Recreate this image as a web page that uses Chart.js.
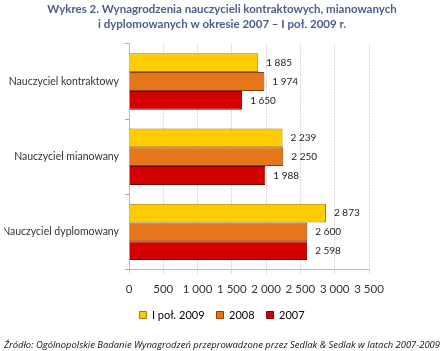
<!DOCTYPE html>
<html>
<head>
<meta charset="utf-8">
<script src="https://cdn.jsdelivr.net/npm/chart.js@4.4.0/dist/chart.umd.min.js"></script>
<style>
  body { margin: 0; background: #fff; }
  #wrap { width: 440px; height: 351px; position: relative; }
</style>
</head>
<body>
<div id="wrap"><canvas id="wykres"></canvas></div>
<script>
const kategorie = ['Nauczyciel kontraktowy', 'Nauczyciel mianowany', 'Nauczyciel dyplomowany'];
const serie = ['I poł. 2009', '2008', '2007'];
const dane2009 = [1885, 2239, 2873];
const dane2008 = [1974, 2250, 2600];
const dane2007 = [1650, 1988, 2598];

const kolory = ['#FFCC00', '#E5761C', '#D40000'];
const jasne = ['#FFE566', '#F5A35A', '#F04040'];
const obramowania = ['#9A7A00', '#8A4208', '#700000'];
const czcionka = 'Lato, sans-serif';

function formatuj(v) {
    return String(v).replace(/\B(?=(\d{3})+(?!\d))/g, ' ');
}

// etykiety z wartościami za słupkami
const etykiety = {
    id: 'etykiety',
    afterDatasetsDraw(chart) {
        const ctx = chart.ctx;
        ctx.save();
        ctx.font = '10px ' + czcionka;
        ctx.fillStyle = '#222';
        ctx.textBaseline = 'middle';
        chart.data.datasets.forEach((ds, i) => {
            chart.getDatasetMeta(i).data.forEach((bar, j) => {
                ctx.fillText(formatuj(ds.data[j]), bar.x + 8, bar.y);
            });
        });
        ctx.restore();
    }
};

// efekt wypukłości słupków
function gradient(ctx, i) {
    const bar = ctx.element;
    if (!bar || !bar.height || !isFinite(bar.y)) return kolory[i];
    const c = ctx.chart.ctx;
    const top = bar.y - bar.height / 2;
    const g = c.createLinearGradient(0, top, 0, top + bar.height);
    g.addColorStop(0, jasne[i]);
    g.addColorStop(0.2, kolory[i]);
    g.addColorStop(0.75, kolory[i]);
    g.addColorStop(1, obramowania[i]);
    return g;
}

const ctx = document.getElementById('wykres').getContext('2d');
new Chart(ctx, {
    type: 'bar',
    data: {
        labels: kategorie,
        datasets: [dane2009, dane2008, dane2007].map((d, i) => ({
            label: serie[i],
            data: d,
            backgroundColor: (c) => gradient(c, i),
            borderColor: obramowania[i],
            borderWidth: 1,
            barPercentage: 1,
            categoryPercentage: 0.75
        }))
    },
    options: {
        indexAxis: 'y',
        responsive: true,
        maintainAspectRatio: false,
        animation: false,
        layout: { padding: { left: 4, right: 0, top: 0, bottom: 0 } },
        scales: {
            x: {
                min: 0,
                max: 3500,
                ticks: {
                    stepSize: 500,
                    color: '#333',
                    font: { size: 11.5, family: czcionka },
                    callback: (v) => formatuj(v),
                    maxRotation: 0,
                    autoSkip: false,
                    padding: 9
                },
                grid: { color: '#d9d9d9', tickLength: 4 },
                border: { color: '#bbb', dash: [2, 1] },
                afterFit: (s) => { s.height = 28; }
            },
            y: {
                ticks: {
                    color: '#333',
                    font: { size: 10.5, family: czcionka },
                    padding: 6
                },
                grid: { drawOnChartArea: false, color: '#aaa', tickLength: 4 },
                border: { color: '#bbb' },
                afterFit: (s) => { s.width = 125; }
            },
            // pusta oś po prawej, zostawia miejsce na etykiety
            prawa: {
                type: 'category',
                position: 'right',
                ticks: { display: false },
                grid: { display: false },
                border: { display: false },
                afterFit: (s) => { s.width = 71; }
            }
        },
        plugins: {
            title: {
                display: true,
                text: ['Wykres 2. Wynagrodzenia nauczycieli kontraktowych, mianowanych',
                       'i dyplomowanych w okresie 2007 – I poł. 2009 r.'],
                color: '#4D5C8A',
                font: { size: 11.5, weight: 'bold', family: czcionka, lineHeight: 1.3 },
                padding: { top: 2, bottom: 12 }
            },
            subtitle: {
                display: true,
                position: 'bottom',
                text: 'Źródło: Ogólnopolskie Badanie Wynagrodzeń przeprowadzone przez Sedlak & Sedlak w latach 2007-2009',
                color: '#111',
                font: { size: 9.6, style: 'italic', family: '"Open Sans", sans-serif' },
                padding: { top: 9, bottom: 0 }
            },
            legend: {
                position: 'bottom',
                labels: {
                    boxWidth: 7,
                    boxHeight: 7,
                    color: '#333',
                    font: { size: 11, family: czcionka },
                    padding: 12,
                    generateLabels: (chart) => chart.data.datasets.map((ds, i) => ({
                        text: ds.label,
                        fillStyle: kolory[i],
                        strokeStyle: obramowania[i],
                        lineWidth: 1,
                        datasetIndex: i
                    }))
                }
            },
            tooltip: { enabled: false }
        }
    },
    plugins: [etykiety]
});
</script>
</body>
</html>
